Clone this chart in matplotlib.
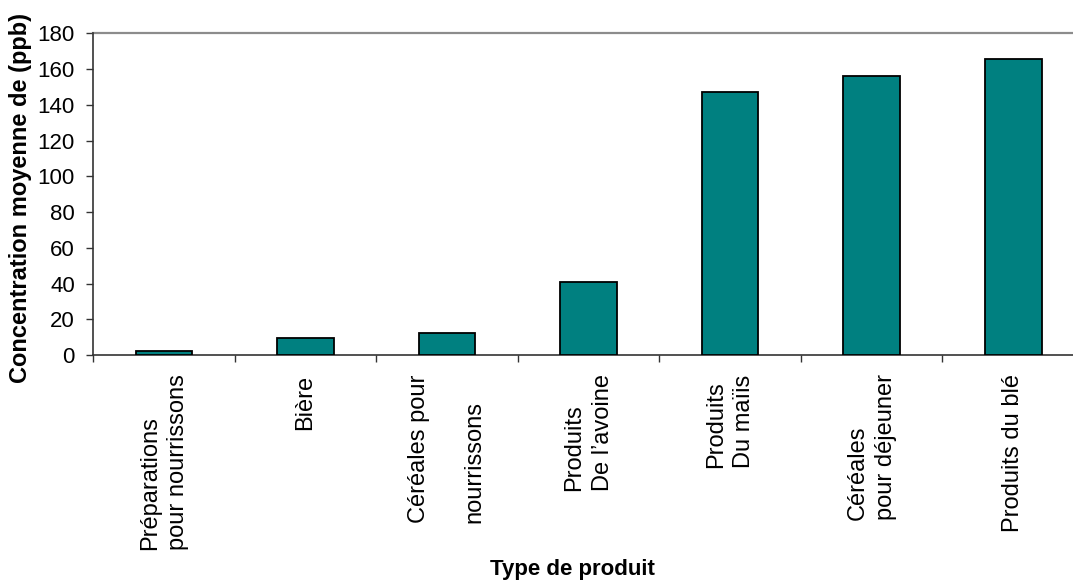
import numpy as np
import matplotlib
matplotlib.use('Agg')
from matplotlib import pyplot as plt

# Données : concentration moyenne par type de produit
produits = [
    'Préparations\npour nourrissons',
    'Bière',
    'Céréales pour\n\nnourrissons',
    'Produits\nDe l’avoine',
    'Produits\nDu maïis',
    'Céréales\npour déjeuner',
    'Produits du blé',
]
concentrations = [2.2, 9.7, 12.5, 40.7, 147.1, 156.4, 165.7]
y_ticks = [0, 20, 40, 60, 80, 100, 120, 140, 160, 180]

plt.rcParams['font.family'] = ['Liberation Sans', 'DejaVu Sans']

fig = plt.figure(figsize=(10.73, 5.83), dpi=100)
ax = fig.add_axes([0.0867, 0.3911, 0.9236, 0.5515])

x = np.arange(len(produits)) + 0.5
ax.bar(x, concentrations, width=0.4, color='#008080', edgecolor='black',
       linewidth=1.3, zorder=3)

# ligne grise en haut de la zone de tracé
ax.axhline(180, color='#8c8c8c', linewidth=1.6, zorder=2, clip_on=False)

ax.set_xlim(0, len(produits))
ax.set_ylim(0, 180)
ax.set_yticks(y_ticks)
ax.tick_params(axis='y', labelsize=16, length=5, width=1, pad=8,
               color='#333333')

# étiquettes au centre des catégories, graduations entre elles
ax.set_xticks(x)
ax.set_xticklabels(produits, rotation=90, fontsize=17, va='top', ha='center',
                   multialignment='left', linespacing=1.35)
ax.tick_params(axis='x', which='major', length=0, pad=14)
ax.set_xticks(np.arange(len(produits) + 1), minor=True)
ax.tick_params(axis='x', which='minor', length=5, width=1, color='#333333')

for side in ['top', 'right']:
    ax.spines[side].set_visible(False)
for side in ['left', 'bottom']:
    ax.spines[side].set_color('#333333')
    ax.spines[side].set_linewidth(1.2)

fig.text(21 / 1073, 1 - 198 / 583, 'Concentration moyenne de (ppb)',
         rotation=90, ha='center', va='center', fontsize=17, fontweight='bold')
fig.text(572 / 1073, 1 - 569 / 583, 'Type de produit',
         ha='center', va='center', fontsize=16, fontweight='bold')

plt.savefig('out.png', dpi=100)
plt.close()
